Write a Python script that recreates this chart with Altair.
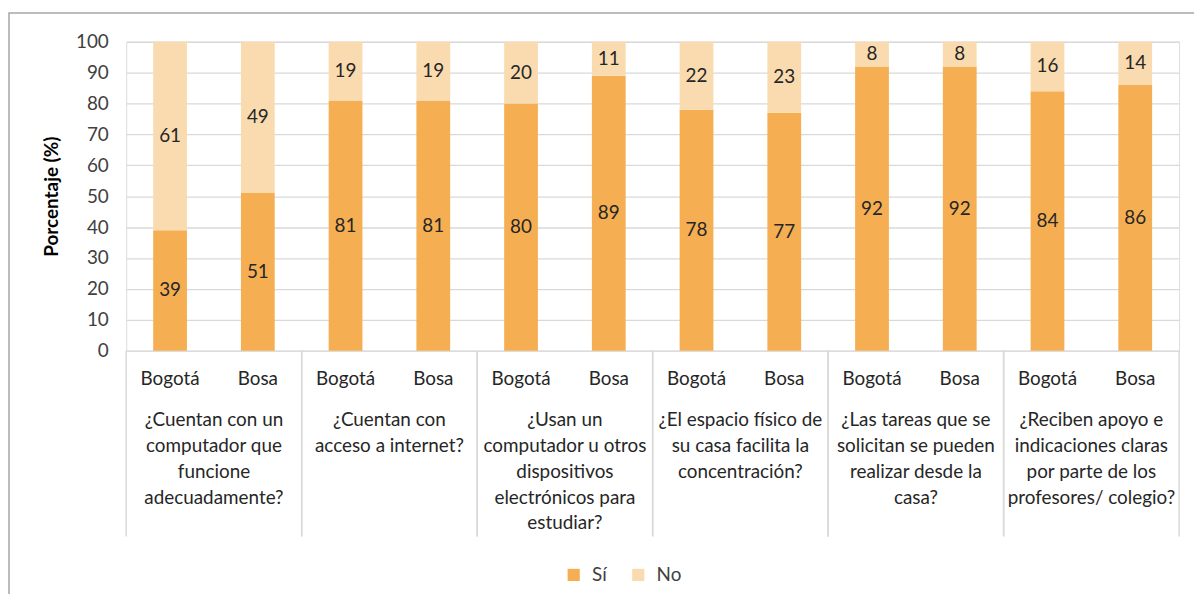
import altair as alt
import pandas as pd

questions = [
    "¿Cuentan con un\ncomputador que\nfuncione\nadecuadamente?",
    "¿Cuentan con\nacceso a internet?",
    "¿Usan un\ncomputador u otros\ndispositivos\nelectrónicos para\nestudiar?",
    "¿El espacio físico de\nsu casa facilita la\nconcentración?",
    "¿Las tareas que se\nsolicitan se pueden\nrealizar desde la\ncasa?",
    "¿Reciben apoyo e\nindicaciones claras\npor parte de los\nprofesores/ colegio?",
]
sites = ["Bogotá", "Bosa"]
si_bogota = [39, 81, 80, 78, 92, 84]
si_bosa = [51, 81, 89, 77, 92, 86]
no_bogota = [61, 19, 20, 22, 8, 16]
no_bosa = [49, 19, 11, 23, 8, 14]

rows = []
for i, q in enumerate(questions):
    gid = f"G{i+1}"
    for site, si, no in [("Bogotá", si_bogota[i], no_bogota[i]), ("Bosa", si_bosa[i], no_bosa[i])]:
        rows.append({"g": gid, "q": q, "site": site, "resp": "Sí", "val": si, "ord": 0, "mid": si / 2})
        rows.append({"g": gid, "q": q, "site": site, "resp": "No", "val": no, "ord": 1, "mid": si + no / 2})
df = pd.DataFrame(rows)
groups = [f"G{i+1}" for i in range(len(questions))]
qdf = pd.DataFrame({"g": groups, "q": questions})
sdf = df[df["resp"] == "Sí"][["g", "site"]].reset_index(drop=True)

FONT = "Lato"
TXT = "#404040"
W, H = 1060, 311

xscale = alt.Scale(domain=groups, paddingInner=0, paddingOuter=0)
xoff = alt.Scale(domain=sites, paddingInner=0.615, paddingOuter=0.3075)
yscale = alt.Scale(domain=[0, 100], nice=False)
X = alt.X("g:N", scale=xscale, axis=None)
XO = alt.XOffset("site:N", scale=xoff)
yaxis = alt.Axis(values=list(range(0, 101, 10)), tickCount=11, title="Porcentaje (%)", grid=True,
                 gridColor="#D9D9D9", gridWidth=1.3, domain=False, ticks=False,
                 labelOverlap=False, labelFont=FONT, labelFontSize=19, labelColor=TXT,
                 labelPadding=18,
                 titleFont=FONT, titleFontSize=19, titleFontWeight="bold",
                 titleColor="#000000", titlePadding=14)
Y = alt.Y("val:Q", stack="zero", scale=yscale, axis=yaxis)

base = alt.Chart(df)

bars = base.mark_bar().encode(
    x=X, xOffset=XO, y=Y,
    color=alt.Color("resp:N", scale=alt.Scale(domain=["Sí", "No"], range=["#F5AF52", "#FADBB0"]),
                    legend=alt.Legend(title=None, orient="none", direction="horizontal",
                                      legendX=441, legendY=527, symbolType="square", symbolSize=150,
                                      symbolStrokeWidth=0, labelFont=FONT, labelFontSize=19,
                                      labelColor=TXT, columnPadding=22, labelOffset=9)),
    order=alt.Order("ord:Q"),
)

vals = base.mark_text(font=FONT, fontSize=19, color="#262626").encode(
    x=X, xOffset=XO, y=alt.Y("mid:Q", scale=yscale, axis=yaxis), text=alt.Text("val:Q"),
)

site_labels = alt.Chart(sdf).mark_text(font=FONT, fontSize=19, color="#262626", baseline="middle").encode(
    x=X, xOffset=XO, y=alt.value(340), text="site:N",
)

q_labels = alt.Chart(qdf).mark_text(font=FONT, fontSize=19, color="#262626", baseline="top",
                                    lineBreak="\n", lineHeight=26).encode(
    x=X, y=alt.value(372), text="q:N",
)

div0 = alt.Chart(qdf).mark_rule(color="#D9D9D9", strokeWidth=1.5).encode(
    x=alt.X("g:N", scale=xscale, axis=None, bandPosition=0), y=alt.value(H), y2=alt.value(498),
)
div1 = alt.Chart(qdf).mark_rule(color="#D9D9D9", strokeWidth=1.5).encode(
    x=alt.X("g:N", scale=xscale, axis=None, bandPosition=1), y=alt.value(H), y2=alt.value(498),
)

border = alt.Chart(qdf.head(1)).mark_rect(fill=None, stroke="#A6A6A6", strokeWidth=1.5).encode(
    x=alt.value(-118), x2=alt.value(1080), y=alt.value(-29), y2=alt.value(600),
)

chart = alt.layer(border, bars, vals, div0, div1, site_labels, q_labels).properties(
    width=W, height=H,
    autosize=alt.AutoSizeParams(type="none"),
    padding={"left": 119, "top": 32, "right": 15, "bottom": 243},
).configure_view(stroke=None).configure(background="white")

chart.save("out.html", embed_options={"renderer": "svg", "actions": False})
